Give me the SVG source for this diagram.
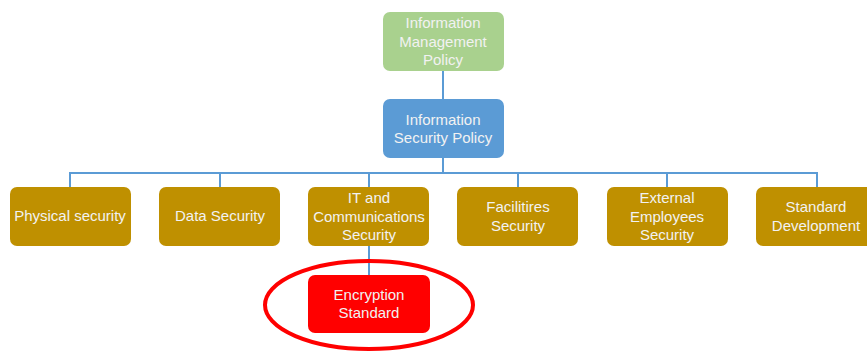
<svg xmlns="http://www.w3.org/2000/svg" width="867" height="352" viewBox="0 0 867 352">
<style>
.n{stroke:none}
.g{fill:#A9D18E}
.b{fill:#5B9BD5}
.o{fill:#BF9000}
.r{fill:#FF0000}
text{font-family:"Liberation Sans",Arial,sans-serif;font-size:15px;fill:#F2F2F2;text-anchor:middle}
.c{stroke:#5B9BD5;stroke-width:2;fill:none}
</style>
<rect width="867" height="352" fill="#FFFFFF"/>
<g id="connectors">
<line class="c" x1="443" y1="71" x2="443" y2="99"/>
<line class="c" x1="443" y1="158" x2="443" y2="173"/>
<polyline class="c" points="70,187 70,173 817,173 817,187"/>
<line class="c" x1="220" y1="173" x2="220" y2="187"/>
<line class="c" x1="369" y1="173" x2="369" y2="187"/>
<line class="c" x1="518" y1="173" x2="518" y2="187"/>
<line class="c" x1="667" y1="173" x2="667" y2="187"/>
<line class="c" x1="369" y1="246" x2="369" y2="275"/>
</g>
<g id="info-mgmt">
<rect class="g" x="383" y="12" width="121" height="59" rx="7"/>
<text x="443" y="28">Information</text>
<text x="443" y="47">Management</text>
<text x="443" y="65">Policy</text>
</g>
<g id="info-sec">
<rect class="b" x="383" y="99" width="121" height="59" rx="7"/>
<text x="443" y="125">Information</text>
<text x="443" y="143">Security Policy</text>
</g>
<g id="physical">
<rect class="o" x="10" y="187" width="121" height="59" rx="7"/>
<text x="70" y="221">Physical security</text>
</g>
<g id="data">
<rect class="o" x="159" y="187" width="121" height="59" rx="7"/>
<text x="220" y="221">Data Security</text>
</g>
<g id="it">
<rect class="o" x="308" y="187" width="121" height="59" rx="7"/>
<text x="369" y="203">IT and</text>
<text x="369" y="222">Communications</text>
<text x="369" y="240">Security</text>
</g>
<g id="facilities">
<rect class="o" x="457" y="187" width="121" height="59" rx="7"/>
<text x="518" y="212">Facilitires</text>
<text x="518" y="231">Security</text>
</g>
<g id="external">
<rect class="o" x="607" y="187" width="121" height="59" rx="7"/>
<text x="667" y="203">External</text>
<text x="667" y="222">Employees</text>
<text x="667" y="240">Security</text>
</g>
<g id="standard">
<rect class="o" x="756" y="187" width="121" height="59" rx="7"/>
<text x="816" y="212">Standard</text>
<text x="816" y="231">Development</text>
</g>
<g id="encryption">
<rect class="r" x="308" y="275" width="122" height="58" rx="7"/>
<text x="369" y="300">Encryption</text>
<text x="369" y="318">Standard</text>
<ellipse cx="369" cy="305" rx="104" ry="44" fill="none" stroke="#FF0000" stroke-width="4"/>
</g>
</svg>
